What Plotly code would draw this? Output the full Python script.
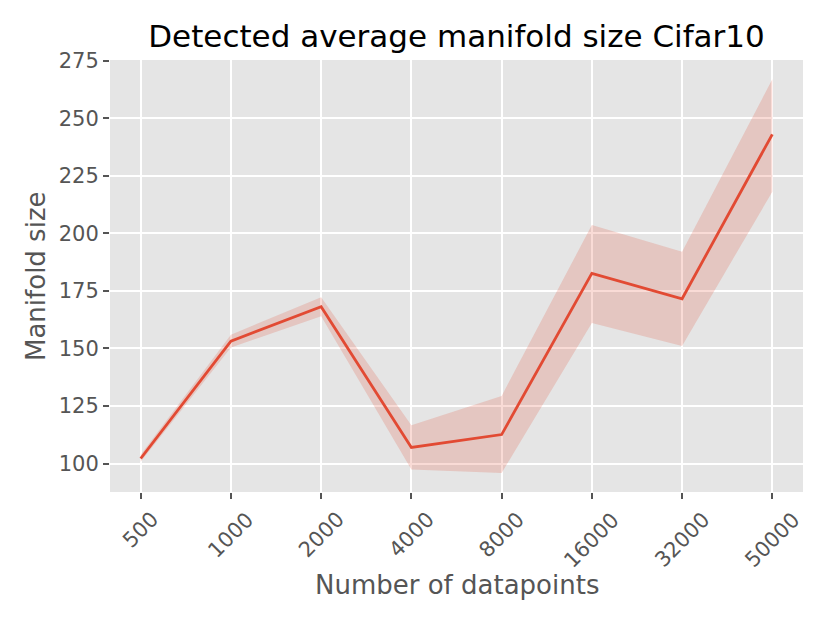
import plotly.graph_objects as go

# Data
datapoints = ["500", "1000", "2000", "4000", "8000", "16000", "32000", "50000"]
manifold_mean = [102.2, 153.2, 168.1, 107.0, 112.6, 182.6, 171.6, 243.0]
manifold_upper = [103.8, 156.0, 172.2, 116.6, 129.4, 203.6, 192.0, 266.9]
manifold_lower = [100.8, 150.4, 164.0, 97.4, 95.9, 161.1, 151.1, 218.1]
y_ticks = [100, 125, 150, 175, 200, 225, 250, 275]

xpos = list(range(len(datapoints)))
LINE = "#E24A33"
GREY = "#555555"
FONT = "DejaVu Sans"

# page body has an 8px margin, so the figure is drawn 8px in from the top-left
W, H = 822, 615
ML, MR, MT, MB = 102, 27, 52, 131
PW, PH = W - ML - MR, H - MT - MB

fig = go.Figure()
fig.add_trace(go.Scatter(x=xpos, y=manifold_lower, mode="lines",
                         line=dict(width=0, color="rgba(0,0,0,0)"),
                         showlegend=False, hoverinfo="skip"))
fig.add_trace(go.Scatter(x=xpos, y=manifold_upper, mode="lines",
                         line=dict(width=0, color="rgba(0,0,0,0)"),
                         fill="tonexty", fillcolor="rgba(226,74,51,0.2)",
                         showlegend=False, hoverinfo="skip"))
fig.add_trace(go.Scatter(x=xpos, y=manifold_mean, mode="lines",
                         line=dict(width=2.8, color=LINE),
                         showlegend=False))

annotations = [
    dict(text="Number of datapoints", xref="paper", yref="paper",
         x=0.5, y=-(585 - 492) / PH, xanchor="center", yanchor="middle",
         showarrow=False, font=dict(family=FONT, size=26, color=GREY)),
    dict(text="Manifold size", xref="paper", yref="paper",
         x=-(110 - 36) / PW, y=0.5, xanchor="center", yanchor="middle",
         textangle=-90, showarrow=False,
         font=dict(family=FONT, size=26, color=GREY)),
]
# rotated x tick labels centred under their ticks (matplotlib style)
for xi, lab in zip(xpos, datapoints):
    annotations.append(dict(text=lab, x=xi, xref="x", y=0, yref="paper",
                            xanchor="center", yanchor="top", yshift=-13,
                            textangle=-45, showarrow=False,
                            font=dict(family=FONT, size=21, color=GREY)))

fig.update_layout(
    width=W, height=H,
    margin=dict(l=ML, r=MR, t=MT, b=MB, autoexpand=False),
    paper_bgcolor="white",
    plot_bgcolor="#E5E5E5",
    font=dict(family=FONT, color=GREY),
    title=dict(text="Detected average manifold size Cifar10",
               font=dict(family=FONT, size=31, color="black"),
               x=0.5, xanchor="center", xref="paper",
               y=1 - 28 / H, yref="container", yanchor="middle"),
    showlegend=False,
    annotations=annotations,
)

fig.update_xaxes(
    range=[-0.34, 7.34],
    tickmode="array", tickvals=xpos, showticklabels=False,
    ticks="outside", ticklen=6, tickwidth=1.5, tickcolor=GREY,
    showgrid=True, gridcolor="white", gridwidth=1.6,
    zeroline=False, showline=False,
)
fig.update_yaxes(
    range=[87.65, 275.3],
    tickmode="array", tickvals=y_ticks,
    ticks="outside", ticklen=6, tickwidth=1.5, tickcolor=GREY,
    tickfont=dict(family=FONT, size=21, color=GREY),
    showgrid=True, gridcolor="white", gridwidth=1.6,
    zeroline=False, showline=False,
)

fig.write_html("out.html")
